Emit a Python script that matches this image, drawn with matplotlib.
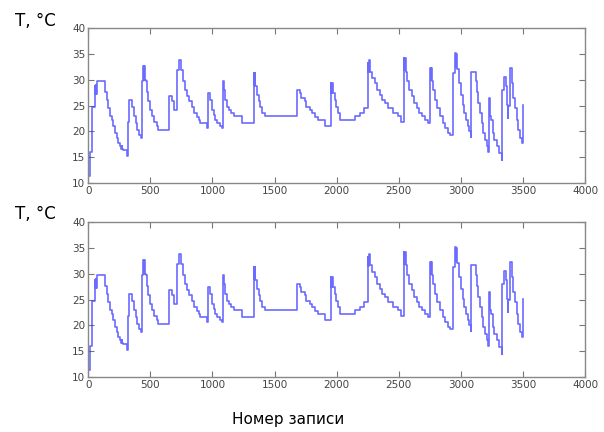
import matplotlib
matplotlib.use("Agg")
import matplotlib.pyplot as plt

# step breakpoints: record number -> temperature
records = [0, 13, 32, 54, 58, 62, 66, 70, 73, 134, 148, 161, 175, 188, 202, 215, 229, 242,
           256, 262, 269, 275, 282, 309, 317, 331, 350, 371, 385, 395, 412, 422,
           433, 444, 448, 452, 456, 463, 471, 484, 498, 511, 530, 551, 565,
           654, 673, 691, 718, 734, 748, 761, 780, 799, 815, 834, 853, 874, 888, 901,
           955, 968, 982, 995, 1009, 1022, 1036, 1057, 1076,
           1084, 1095, 1103, 1116, 1130, 1149, 1170, 1237,
           1331, 1335, 1339, 1344, 1358, 1374, 1385, 1401, 1420,
           1680, 1701, 1714, 1741, 1755, 1782, 1803, 1822, 1849, 1906,
           1950, 1955, 1960, 1969, 1983, 1996, 2009, 2023, 2143, 2184, 2216,
           2251, 2255, 2260, 2269, 2285, 2304, 2323, 2345, 2366, 2385, 2412, 2452, 2492, 2519,
           2538, 2543, 2548, 2558, 2569, 2585, 2603, 2622, 2644, 2665, 2684, 2711, 2737,
           2751, 2755, 2760, 2764, 2778, 2791, 2810, 2831, 2853, 2871, 2898, 2912,
           2938, 2952, 2957, 2962, 2971, 2987, 3000, 3013, 3027, 3040, 3054, 3067, 3078,
           3080, 3121, 3126, 3139, 3153, 3166, 3180, 3193, 3206, 3220,
           3228, 3233, 3239, 3255, 3268, 3287, 3306, 3327,
           3332, 3349, 3362, 3373, 3377, 3381, 3394, 3408, 3421, 3434, 3448, 3461, 3474, 3488,
           3501]
temps = [11.3, 16.0, 24.8, 28.7, 27.3, 28.9, 27.3, 28.9, 29.7, 27.7, 26.1, 24.5, 22.9, 22.3, 21.0, 19.7, 18.7, 17.7,
         17.2, 16.6, 17.2, 16.6, 16.5, 15.2, 21.9, 26.1, 24.8, 22.9, 21.6, 20.3, 19.4, 18.7,
         29.7, 32.6, 30.0, 32.6, 30.0, 29.7, 27.7, 25.8, 24.2, 22.9, 21.9, 21.0, 20.3,
         26.8, 25.8, 24.2, 31.9, 33.9, 31.9, 29.7, 28.1, 26.9, 25.8, 24.7, 23.5, 22.8, 22.3, 21.6,
         20.6, 27.4, 26.0, 24.2, 23.2, 22.3, 21.6, 21.0, 20.6,
         29.7, 28.1, 26.1, 24.8, 24.2, 23.5, 22.9, 21.6,
         31.3, 29.0, 31.3, 28.7, 27.1, 25.8, 24.7, 23.5, 22.9,
         28.1, 27.4, 26.5, 25.8, 24.8, 24.2, 23.5, 22.8, 22.3, 21.1,
         29.4, 27.5, 29.4, 27.4, 26.1, 24.8, 23.5, 22.3, 22.9, 23.5, 24.5,
         33.2, 31.5, 33.9, 31.6, 30.3, 29.4, 28.1, 27.1, 26.1, 25.5, 24.5, 23.5, 22.9, 21.9,
         34.2, 31.8, 34.2, 31.6, 29.7, 28.1, 26.8, 25.5, 24.5, 23.5, 22.9, 22.3, 21.6,
         32.3, 30.0, 32.3, 29.7, 28.1, 26.1, 24.5, 22.9, 21.6, 20.6, 19.7, 19.4,
         31.3, 35.2, 32.5, 35.0, 32.0, 29.4, 27.1, 25.2, 23.5, 22.3, 21.0, 20.0, 19.0,
         31.6, 29.7, 27.7, 25.5, 23.5, 21.6, 19.7, 18.4, 17.1, 16.1,
         26.5, 23.0, 22.3, 19.7, 18.4, 17.1, 15.8, 14.5,
         28.1, 30.6, 28.7, 25.2, 22.6, 25.0, 32.3, 29.4, 26.5, 24.5, 22.3, 20.3, 18.7, 17.7,
         25.2]

x_ticks = [0, 500, 1000, 1500, 2000, 2500, 3000, 3500, 4000]
y_ticks = [10, 15, 20, 25, 30, 35, 40]

fig = plt.figure(figsize=(6.04, 4.32), dpi=100)
positions = [[0.146, 0.576, 0.823, 0.359], [0.146, 0.127, 0.823, 0.359]]
label_y = [0.951, 0.505]

for pos, ly in zip(positions, label_y):
    ax = fig.add_axes(pos)
    ax.plot(records, temps, drawstyle="steps-post", color="#3a3aff", lw=1.2, alpha=0.75)
    ax.set_xlim(0, 4000)
    ax.set_ylim(10, 40)
    ax.set_xticks(x_ticks)
    ax.set_yticks(y_ticks)
    ax.tick_params(direction="in", top=True, right=True, labelsize=7.5, pad=2,
                   labelcolor="#444444", color="#777777", length=4)
    for s in ax.spines.values():
        s.set_color("#888888")
        s.set_linewidth(1.0)
    fig.text(0.025, ly, "T, °C", fontsize=12, ha="left", va="center")

fig.text(0.477, 0.028, "Номер записи", fontsize=11, ha="center", va="center")

fig.savefig("out.png", dpi=100)
